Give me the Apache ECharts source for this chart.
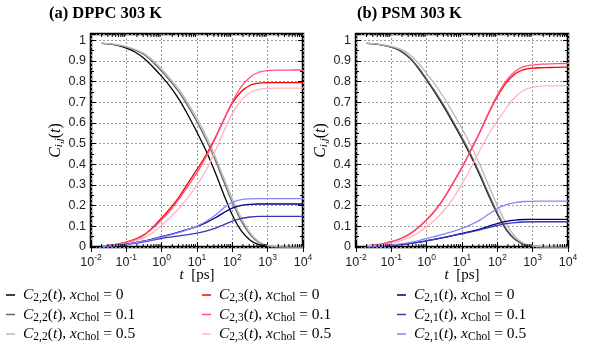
<!DOCTYPE html>
<html><head><meta charset="utf-8">
<script src="https://cdn.jsdelivr.net/npm/echarts@6/dist/echarts.min.js"></script>
<style>html,body{margin:0;padding:0;background:#fff}#c{width:592px;height:350px}</style>
</head><body><div id="c"></div>
<script>
// time points (ps) at which the curves were read (about quarter decades)
const tPs = [0.02, 0.032, 0.056, 0.1, 0.18, 0.32, 0.56, 1, 1.8, 3.2, 5.6, 10, 18, 32, 56, 100, 180, 320, 560, 1000, 1800, 3200, 5600, 10000];
const xTickLabels = ['10^-2','10^-1','10^0','10^1','10^2','10^3','10^4'];
const yTickLabels = ['0','0.1','0.2','0.3','0.4','0.5','0.6','0.7','0.8','0.9','1'];
const panelTitles = ['(a) DPPC 303 K', '(b) PSM 303 K'];
const cholLevels = ['0', '0.1', '0.5'];

// (a) DPPC
const dppc_C22_x0  = [0.985,0.982,0.975,0.962,0.942,0.912,0.872,0.825,0.772,0.71,0.637,0.555,0.465,0.365,0.258,0.155,0.078,0.033,0.011,0.003,0,0,0,0];
const dppc_C22_x01 = [0.985,0.982,0.977,0.967,0.952,0.93,0.895,0.85,0.80,0.745,0.68,0.605,0.52,0.425,0.32,0.215,0.125,0.06,0.022,0.006,0.001,0,0,0];
const dppc_C22_x05 = [0.985,0.983,0.978,0.969,0.955,0.935,0.902,0.86,0.812,0.758,0.695,0.622,0.538,0.443,0.338,0.232,0.14,0.068,0.026,0.008,0.002,0,0,0];
const dppc_C23_x0  = [0.005,0.008,0.014,0.024,0.038,0.06,0.095,0.14,0.19,0.245,0.31,0.375,0.445,0.525,0.612,0.695,0.752,0.782,0.792,0.795,0.795,0.795,0.795,0.795];
const dppc_C23_x01 = [0.005,0.008,0.013,0.023,0.036,0.057,0.09,0.132,0.18,0.235,0.295,0.36,0.435,0.52,0.612,0.702,0.775,0.822,0.845,0.853,0.855,0.855,0.856,0.856];
const dppc_C23_x05 = [0.004,0.006,0.01,0.018,0.029,0.045,0.07,0.105,0.145,0.19,0.24,0.30,0.37,0.46,0.555,0.645,0.71,0.747,0.762,0.767,0.768,0.768,0.768,0.768];
const dppc_C21_x0  = [0.002,0.004,0.008,0.014,0.021,0.029,0.039,0.05,0.061,0.073,0.086,0.10,0.118,0.14,0.165,0.188,0.201,0.206,0.208,0.208,0.208,0.208,0.208,0.208];
const dppc_C21_x01 = [0.002,0.003,0.006,0.012,0.018,0.025,0.033,0.042,0.048,0.054,0.06,0.067,0.077,0.09,0.107,0.125,0.138,0.145,0.148,0.148,0.148,0.148,0.148,0.148];
const dppc_C21_x05 = [0.002,0.004,0.008,0.013,0.02,0.028,0.037,0.048,0.059,0.071,0.085,0.101,0.123,0.152,0.188,0.216,0.229,0.233,0.234,0.234,0.234,0.234,0.234,0.234];

// (b) PSM
const psm_C22_x0  = [0.985,0.982,0.976,0.966,0.948,0.916,0.868,0.807,0.742,0.673,0.60,0.522,0.438,0.347,0.252,0.16,0.083,0.036,0.012,0.003,0,0,0,0];
const psm_C22_x01 = [0.985,0.982,0.976,0.967,0.95,0.919,0.872,0.812,0.748,0.68,0.607,0.53,0.446,0.355,0.26,0.166,0.087,0.038,0.013,0.004,0.001,0,0,0];
const psm_C22_x05 = [0.985,0.983,0.978,0.97,0.957,0.933,0.892,0.84,0.782,0.718,0.648,0.572,0.49,0.398,0.30,0.20,0.112,0.05,0.018,0.005,0.001,0,0,0];
const psm_C23_x0  = [0.005,0.009,0.015,0.026,0.04,0.061,0.092,0.132,0.18,0.24,0.31,0.385,0.47,0.555,0.645,0.728,0.795,0.838,0.858,0.865,0.867,0.868,0.869,0.87];
const psm_C23_x01 = [0.005,0.009,0.015,0.026,0.04,0.061,0.092,0.132,0.18,0.24,0.31,0.385,0.47,0.555,0.648,0.735,0.805,0.85,0.872,0.88,0.884,0.886,0.887,0.888];
const psm_C23_x05 = [0.004,0.006,0.011,0.019,0.03,0.045,0.068,0.098,0.135,0.18,0.235,0.305,0.385,0.467,0.543,0.61,0.672,0.725,0.758,0.773,0.778,0.779,0.78,0.78];
const psm_C21_x0  = [0.001,0.002,0.004,0.007,0.011,0.016,0.022,0.03,0.038,0.047,0.056,0.066,0.076,0.087,0.10,0.113,0.124,0.13,0.133,0.134,0.134,0.134,0.134,0.134];
const psm_C21_x01 = [0.001,0.002,0.004,0.007,0.011,0.016,0.022,0.03,0.038,0.046,0.055,0.064,0.073,0.083,0.094,0.104,0.113,0.118,0.121,0.122,0.122,0.122,0.122,0.122];
const psm_C21_x05 = [0.002,0.003,0.006,0.01,0.015,0.021,0.03,0.042,0.052,0.063,0.076,0.09,0.108,0.13,0.158,0.186,0.205,0.215,0.22,0.221,0.222,0.222,0.222,0.222];

const colorsC22 = ['#000000', '#666666', '#b8b8b8'];
const colorsC23 = ['#ff0000', '#ff4f7b', '#ffb3c8'];
const colorsC21 = ['#00007a', '#3535b5', '#8585ff'];

const SERIF = '"Liberation Serif","Times New Roman",serif';
const SANS = '"Liberation Sans",Arial,sans-serif';

function legendName(ij, x) { return 'C' + ij + '|' + x; }
function legendFmt(name) {
  const p = name.split('|');
  const ij = p[0].slice(1);
  return '{i|C}{s|' + ij + '}{n|(}{i|t}{n|), }{i|x}{s|Chol}{n| = ' + p[1] + '}';
}

const panels = [
  { C22: [dppc_C22_x0, dppc_C22_x01, dppc_C22_x05], C23: [dppc_C23_x0, dppc_C23_x01, dppc_C23_x05], C21: [dppc_C21_x0, dppc_C21_x01, dppc_C21_x05] },
  { C22: [psm_C22_x0, psm_C22_x01, psm_C22_x05], C23: [psm_C23_x0, psm_C23_x01, psm_C23_x05], C21: [psm_C21_x0, psm_C21_x01, psm_C21_x05] }
];

const gridRects = [{ left: 91, top: 34, width: 212, height: 213 }, { left: 356, top: 34, width: 212, height: 213 }];

const series = [];
const groups = [['2,2', 'C22', colorsC22], ['2,3', 'C23', colorsC23], ['2,1', 'C21', colorsC21]];
panels.forEach((pan, gi) => {
  groups.forEach(([ij, key, cols]) => {
    pan[key].forEach((vals, k) => {
      series.push({
        type: 'line', name: legendName(ij, cholLevels[k]),
        xAxisIndex: gi * 2, yAxisIndex: gi * 2,
        data: tPs.map((t, i) => [t, vals[i]]),
        symbol: 'none', showSymbol: false, smooth: 0.3,
        lineStyle: { color: cols[k], width: 1.3 }, itemStyle: { color: cols[k] },
        silent: true, animation: false, z: 3
      });
    });
  });
});

// minor log ticks 2..9 in each decade (axis decoration)
const minorT = [];
for (let e = -2; e < 4; e++) for (let m = 2; m <= 9; m++) minorT.push(m * Math.pow(10, e));
[0, 1].forEach(gi => {
  series.push({
    type: 'custom', xAxisIndex: gi * 2, yAxisIndex: gi * 2, silent: true, animation: false, z: 5,
    data: minorT.map(v => [v, 0.5]),
    renderItem: (params, api) => {
      const cs = params.coordSys;
      const x = api.coord([api.value(0), 0.5])[0];
      const b = cs.y + cs.height;
      return { type: 'group', children: [
        { type: 'line', shape: { x1: x, y1: b, x2: x, y2: b - 3 }, style: { stroke: '#000', lineWidth: 1 } },
        { type: 'line', shape: { x1: x, y1: cs.y, x2: x, y2: cs.y + 3 }, style: { stroke: '#000', lineWidth: 1 } }
      ] };
    }
  });
});

const xAxes = [], yAxes = [];
const xLabelMap = {};
xTickLabels.forEach(s => { const e = parseInt(s.split('^')[1]); xLabelMap[e] = s; });
gridRects.forEach((g, gi) => {
  ['bottom', 'top'].forEach((pos, j) => {
    xAxes.push({
      type: 'log', logBase: 10, gridIndex: gi, position: pos, min: 0.01, max: 10000, splitNumber: 6,
      axisLine: { show: false },
      axisTick: { show: true, inside: true, length: 5, lineStyle: { color: '#000', width: 1 } },
      axisLabel: j === 0 ? {
        show: true, margin: 6,
        formatter: v => {
          const e = Math.round(Math.log10(v));
          const s = xLabelMap[e]; if (!s) return '';
          const p = s.split('^');
          return '{b|' + p[0] + '}{s|' + p[1] + '}';
        },
        rich: {
          b: { fontFamily: SANS, fontSize: 12.5, color: '#222', lineHeight: 16, verticalAlign: 'bottom' },
          s: { fontFamily: SANS, fontSize: 8.5, color: '#222', lineHeight: 9, verticalAlign: 'top' }
        }
      } : { show: false },
      splitLine: { show: j === 0, lineStyle: { color: '#9a9a9a', type: [2, 2], width: 1 } },
      name: j === 0 ? '{i|t}{n|  [ps]}' : '', nameLocation: 'middle', nameGap: 21, nameMoveOverlap: false,
      nameTextStyle: { rich: {
        i: { fontFamily: SERIF, fontStyle: 'italic', fontSize: 15, color: '#000' },
        n: { fontFamily: SERIF, fontSize: 15, color: '#000' } } }
    });
  });
  ['left', 'right'].forEach((pos, j) => {
    yAxes.push({
      type: 'value', gridIndex: gi, position: pos, min: 0, max: 1.03, interval: 0.1,
      axisLine: { show: false },
      axisTick: { show: true, inside: true, length: 5, lineStyle: { color: '#000', width: 1 } },
      minorTick: { show: true, splitNumber: 2, length: 3, lineStyle: { color: '#000', width: 1 } },
      axisLabel: j === 0 ? {
        show: true, margin: 5, fontFamily: SANS, fontSize: 12.5, color: '#222',
        formatter: v => {
          const r = Math.round(v * 10);
          if (Math.abs(v * 10 - r) > 1e-6) return '';
          return yTickLabels[r] || '';
        }
      } : { show: false },
      splitLine: { show: j === 0, lineStyle: { color: '#9a9a9a', type: [2, 2], width: 1 } },
      name: j === 0 ? '{i|C}{s|i,j}{n|(}{i|t}{n|)}' : '', nameLocation: 'middle', nameGap: 17, nameRotate: 90,
      nameTextStyle: { rich: {
        i: { fontFamily: SERIF, fontStyle: 'italic', fontSize: 16, color: '#000', lineHeight: 18, verticalAlign: 'middle' },
        s: { fontFamily: SERIF, fontStyle: 'italic', fontSize: 11, color: '#000', lineHeight: 9, verticalAlign: 'bottom' },
        n: { fontFamily: SERIF, fontSize: 16, color: '#000', lineHeight: 18, verticalAlign: 'middle' } } }
    });
  });
});

const legendRich = {
  i: { fontFamily: SERIF, fontStyle: 'italic', fontSize: 15.5, color: '#000', lineHeight: 18, verticalAlign: 'middle' },
  n: { fontFamily: SERIF, fontSize: 15.5, color: '#000', lineHeight: 18, verticalAlign: 'middle' },
  s: { fontFamily: SERIF, fontSize: 11.5, color: '#000', lineHeight: 9, verticalAlign: 'bottom' }
};
const legendLefts = [6, 202, 397];
const legends = groups.map(([ij], c) => ({
  orient: 'vertical', left: legendLefts[c], top: 287, itemGap: 2.5, padding: 0,
  icon: 'rect', itemWidth: 9, itemHeight: 1.5, selectedMode: false,
  data: cholLevels.map(x => legendName(ij, x)),
  formatter: legendFmt,
  textStyle: { rich: legendRich, padding: [0, 0, 0, 3] }
}));

const chart = echarts.init(document.getElementById('c'), null, { renderer: 'canvas' });
chart.setOption({
  animation: false,
  backgroundColor: '#fff',
  title: panelTitles.map((t, i) => ({
    text: t, left: i === 0 ? 49 : 357, top: 5, padding: 0,
    textStyle: { fontFamily: SERIF, fontWeight: 'bold', fontSize: 16.5, color: '#000' }
  })),
  grid: gridRects.map(g => Object.assign({ show: true, borderColor: '#000', borderWidth: 2.5, backgroundColor: 'transparent', containLabel: false }, g)),
  xAxis: xAxes,
  yAxis: yAxes,
  legend: legends,
  series: series
});
</script></body></html>
